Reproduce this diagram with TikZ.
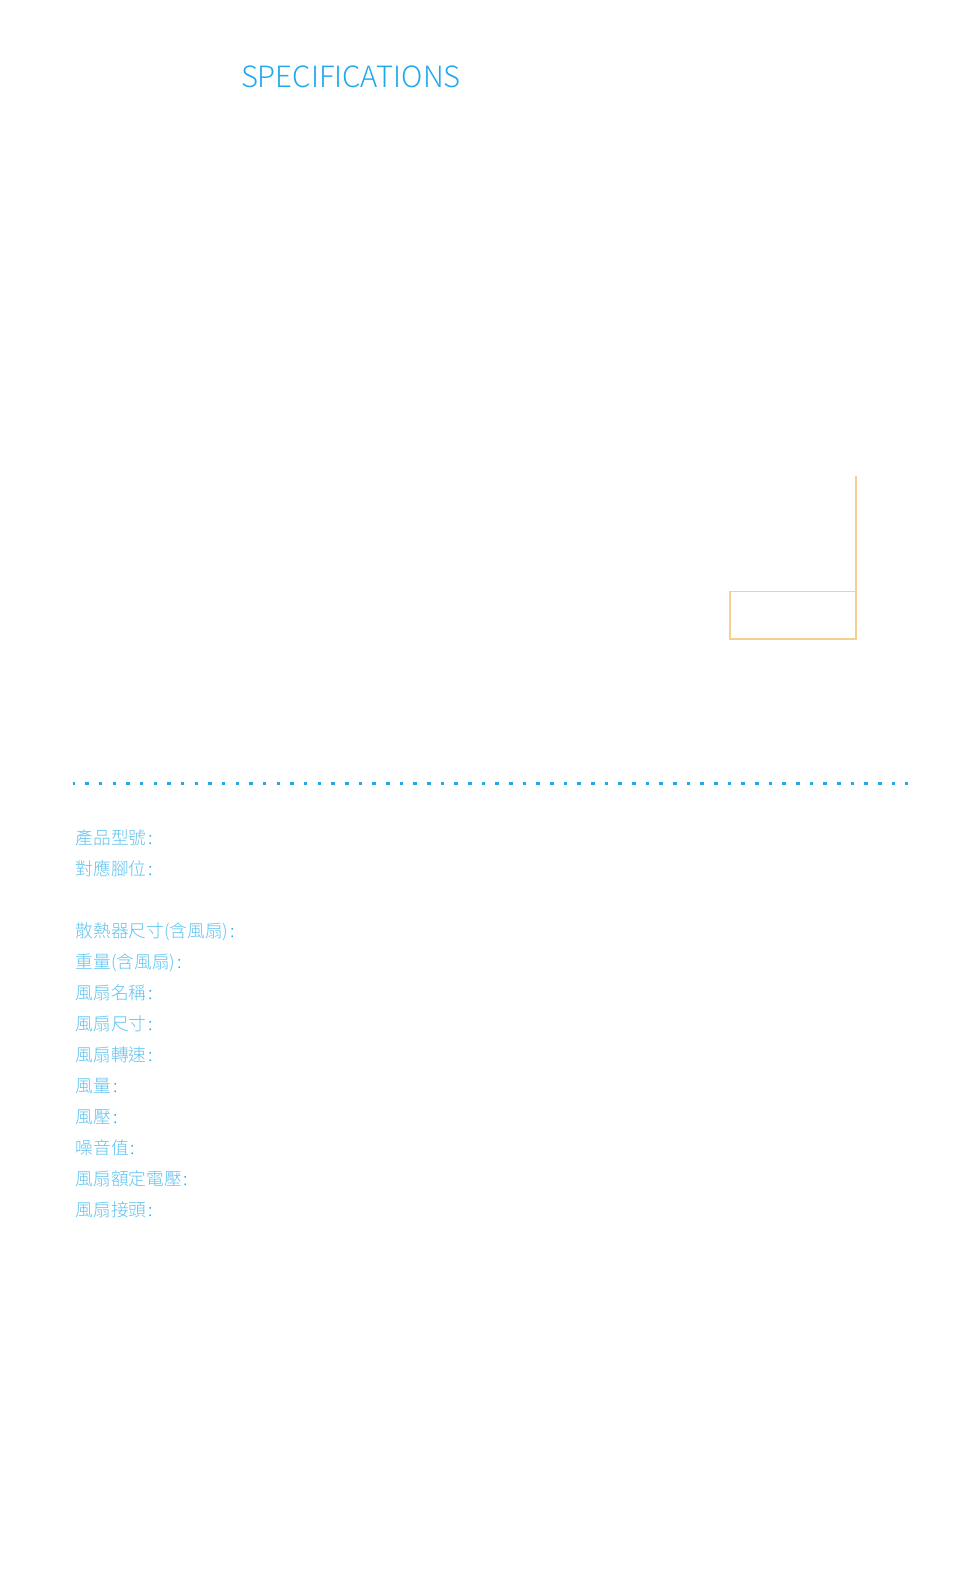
\documentclass[tikz,border=0pt]{standalone}
\usepackage{fontspec}
\setmainfont{Noto Sans CJK TC Light}
\definecolor{specblue}{HTML}{1FA9EC}
\definecolor{rowblue}{HTML}{5CC2F0}
\definecolor{boxgold}{HTML}{F3D08E}
\newcommand{\rowcolon}{\kern2pt\textcolor{specblue}{:}}
\tikzset{
    rowlabel/.style={anchor=base west,inner sep=0pt,text=rowblue,font=\fontsize{17.7}{17.7}\selectfont},
}
\begin{document}
\begin{tikzpicture}[x=1pt,y=-1pt]
    \useasboundingbox (0,0) rectangle (978,1569);
    %% Heading
    \node[anchor=base west,inner sep=0pt,text=specblue,font=\fontsize{29.3}{29.3}\selectfont] (title) at (240.8,87) {SPECIFICATIONS};
    %% Gold box and its lead
    \coordinate (leadtop) at (855.8,476);
    \coordinate (boxne) at (855.8,591.5);
    \coordinate (boxsw) at (729.8,639);
    \draw[boxgold,line width=1.4pt] (leadtop) -- (boxne);
    \draw[boxgold,line width=1.4pt] (boxsw) rectangle (boxne);
    %% Dotted rule
    \coordinate (ruleleft) at (73.3,783.3);
    \coordinate (ruleright) at (907.8,783.3);
    \draw[specblue,line width=3.6pt,dash pattern=on 3.6pt off 10.07pt,dash phase=1.8pt] (ruleleft) -- (ruleright);
    %% Rows
    \node[rowlabel] (model) at (75.5,844.5) {產品型號\rowcolon};
    \node[rowlabel] (socket) at (75.5,875.5) {對應腳位\rowcolon};
    \node[rowlabel] (size) at (75.5,937.5) {散熱器尺寸(含風扇)\rowcolon};
    \node[rowlabel] (weight) at (75.5,968.5) {重量(含風扇)\rowcolon};
    \node[rowlabel] (fanname) at (75.5,999.5) {風扇名稱\rowcolon};
    \node[rowlabel] (fansize) at (75.5,1030.5) {風扇尺寸\rowcolon};
    \node[rowlabel] (fanspeed) at (75.5,1061.5) {風扇轉速\rowcolon};
    \node[rowlabel] (airflow) at (75.5,1092.5) {風量\rowcolon};
    \node[rowlabel] (pressure) at (75.5,1123.5) {風壓\rowcolon};
    \node[rowlabel] (noise) at (75.5,1154.5) {噪音值\rowcolon};
    \node[rowlabel] (voltage) at (75.5,1185.5) {風扇額定電壓\rowcolon};
    \node[rowlabel] (connector) at (75.5,1216.5) {風扇接頭\rowcolon};
\end{tikzpicture}
\end{document}
